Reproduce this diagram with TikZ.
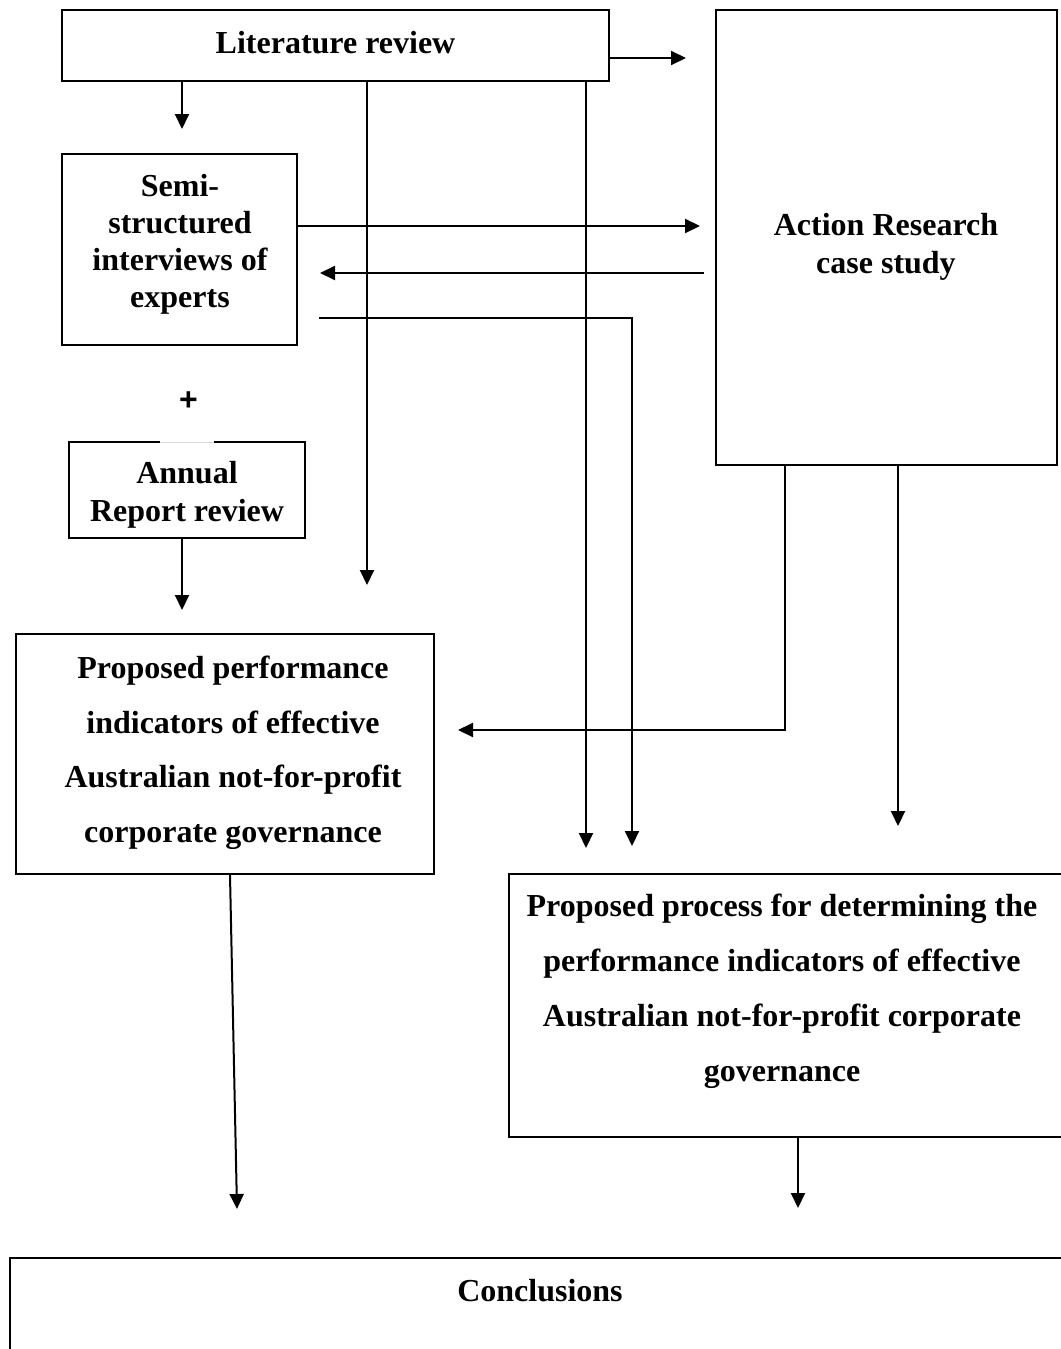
\documentclass[tikz,border=0pt]{standalone}
\usepackage{fontspec}
\setmainfont{Liberation Serif}
\setsansfont{Liberation Sans}
\usetikzlibrary{arrows.meta}

\begin{document}
\begin{tikzpicture}[x=0.5pt,y=-0.5pt,>={Triangle[length=7.5pt,width=7pt]},line width=1pt,
  box/.style={draw,rectangle,inner sep=0pt},
  txt/.style={anchor=north,inner sep=0pt,align=center,font=\bfseries\fontsize{16}{18.5}\selectfont},
  wide/.style={txt,font=\bfseries\fontsize{16}{27.5}\selectfont}]
\useasboundingbox (0,0) rectangle (1060,1349);
\node[box,minimum width=273.5pt,minimum height=35.5pt] (lit) at (335.5,45.5) {};
\node[box,minimum width=117.5pt,minimum height=95.5pt] (semi) at (179.5,249.5) {};
\node[box,minimum width=118pt,minimum height=48pt] (annual) at (187,490) {};
\node[box,minimum width=170.5pt,minimum height=227.5pt] (action) at (886.5,237.5) {};
\node[box,minimum width=209pt,minimum height=120pt] (indic) at (225,754) {};
\node[box,minimum width=276.5pt,minimum height=131.5pt] (process) at (785.5,1005.5) {};
\node[box,minimum width=531pt,minimum height=101pt] (concl) at (541,1359) {};
\draw[white,line width=1.6pt] (160,442) -- (214,442);
\draw[gray!30,line width=0.4pt] (160,442) -- (214,442);
\node[txt] (litT) at (335.5,30) {Literature review};
\node[txt] (semiT) at (180,173) {Semi-\\structured\\interviews of\\experts};
\node[txt,anchor=center,font=\sffamily\bfseries\fontsize{16}{18.5}\selectfont] (plus) at (188.5,401.5) {+};
\node[txt,font=\bfseries\fontsize{16}{19}\selectfont] (annualT) at (187,460) {Annual\\Report review};
\node[txt,font=\bfseries\fontsize{16}{19}\selectfont] (actionT) at (886,212) {Action Research\\case study};
\node[wide,font=\bfseries\fontsize{16}{27.25}\selectfont] (indicT) at (233,655) {Proposed performance\\indicators of effective\\Australian not-for-profit\\corporate governance};
\node[wide] (processT) at (782,893) {Proposed process for determining the\\performance indicators of effective\\Australian not-for-profit corporate\\governance};
\node[txt] (conclT) at (540,1278) {Conclusions};
\coordinate (litR) at (686,58);
\coordinate (semiN) at (182,129);
\coordinate (litD1) at (367,585);
\coordinate (litD2) at (586,848);
\coordinate (semiR) at (700,226);
\coordinate (backS) at (704,273);
\coordinate (backE) at (320,273);
\coordinate (loopS) at (319,318);
\coordinate (loopE) at (632,846);
\coordinate (annualD) at (182,610);
\coordinate (actionL) at (458,730);
\coordinate (actionD) at (898,826);
\coordinate (indicD) at (237,1209);
\coordinate (processD) at (798,1208);
\draw[->] (lit.east |- litR) -- (litR);
\draw[->] (lit.south -| semiN) -- (semiN);
\draw[->] (lit.south -| litD1) -- (litD1);
\draw[->] (lit.south -| litD2) -- (litD2);
\draw[->] (semi.east |- semiR) -- (semiR);
\draw[->] (backS) -- (backE);
\draw[->] (loopS) -| (loopE);
\draw[->] (annual.south -| annualD) -- (annualD);
\draw[->] (action.south -| 785,0) |- (actionL);
\draw[->] (action.south -| actionD) -- (actionD);
\draw[->] (indic.south -| 230,0) -- (indicD);
\draw[->] (process.south -| processD) -- (processD);
\end{tikzpicture}
\end{document}
